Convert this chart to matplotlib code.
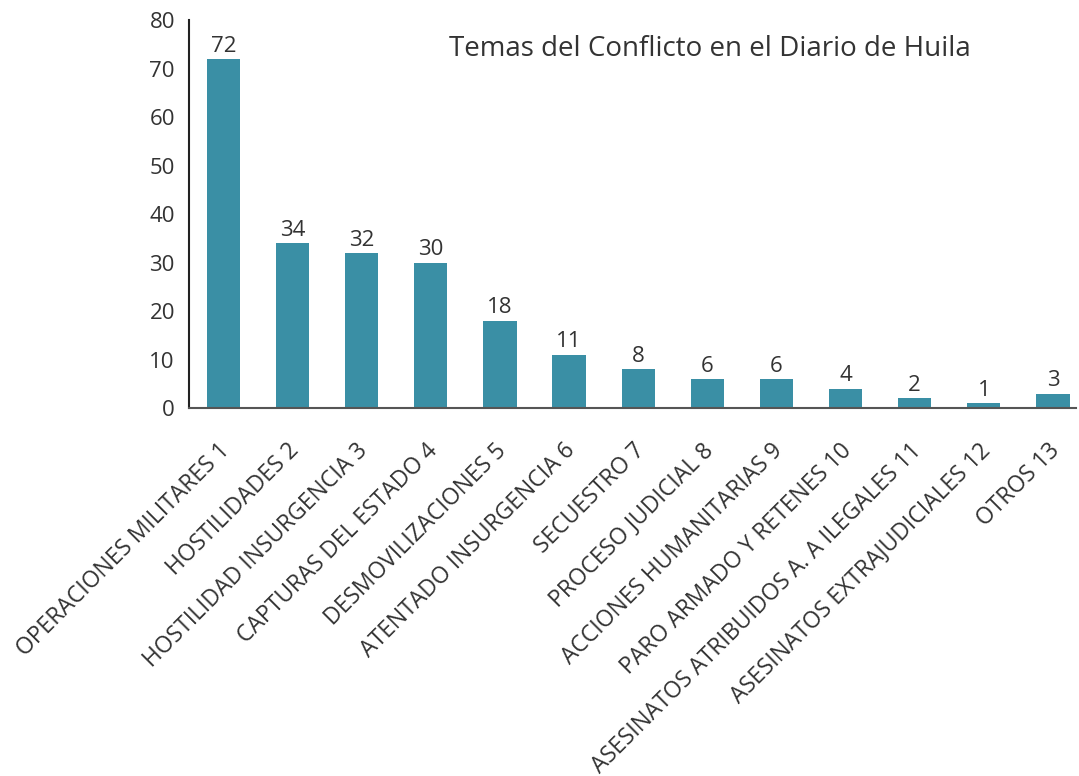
import matplotlib.pyplot as plt
from matplotlib.transforms import ScaledTranslation

plt.rcParams['font.family'] = ['Open Sans', 'DejaVu Sans']

temas = [
    "OPERACIONES MILITARES 1",
    "HOSTILIDADES 2",
    "HOSTILIDAD INSURGENCIA 3",
    "CAPTURAS DEL ESTADO 4",
    "DESMOVILIZACIONES 5",
    "ATENTADO INSURGENCIA 6",
    "SECUESTRO 7",
    "PROCESO JUDICIAL 8",
    "ACCIONES HUMANITARIAS 9",
    "PARO ARMADO Y RETENES 10",
    "ASESINATOS ATRIBUIDOS A. A ILEGALES 11",
    "ASESINATOS EXTRAJUDICIALES 12",
    "OTROS 13",
]
cantidades = [72, 34, 32, 30, 18, 11, 8, 6, 6, 4, 2, 1, 3]
y_ticks = [0, 10, 20, 30, 40, 50, 60, 70, 80]

fig = plt.figure(figsize=(10.79, 7.76), dpi=100)
ax = fig.add_axes([0.175, 0.474, 0.822, 0.5])

x = range(len(temas))
bars = ax.bar(x, cantidades, width=0.48, color='#3a8fa5')
for b, v in zip(bars, cantidades):
    ax.text(b.get_x() + b.get_width() / 2, v + 0.5, str(v),
            ha='center', va='bottom', fontsize=16, color='#333333')

ax.set_xlim(-0.5, len(temas) - 0.67)
ax.set_ylim(0, 80)
ax.set_yticks(y_ticks)
ax.tick_params(axis='y', labelsize=16, colors='#333333', length=0, pad=10)
ax.set_xticks(list(x))
ax.set_xticklabels(temas, rotation=45, ha='right', rotation_mode='anchor',
                   fontsize=16.5, color='#333333')
ax.tick_params(axis='x', length=0, pad=22)
# nudge labels a bit left so their ends sit under the bars
shift = ScaledTranslation(-4 / 72, 0, fig.dpi_scale_trans)
for lbl in ax.get_xticklabels():
    lbl.set_transform(lbl.get_transform() + shift)

ax.spines['top'].set_visible(False)
ax.spines['right'].set_visible(False)
ax.spines['left'].set_color('#222222')
ax.spines['left'].set_linewidth(1.5)
ax.spines['bottom'].set_color('#555555')
ax.spines['bottom'].set_linewidth(1.5)

ax.text(0.587, 0.925, "Temas del Conflicto en el Diario de Huila",
        transform=ax.transAxes, ha='center', va='center',
        fontsize=20, color='#333333')

fig.savefig("out.png", dpi=100)
